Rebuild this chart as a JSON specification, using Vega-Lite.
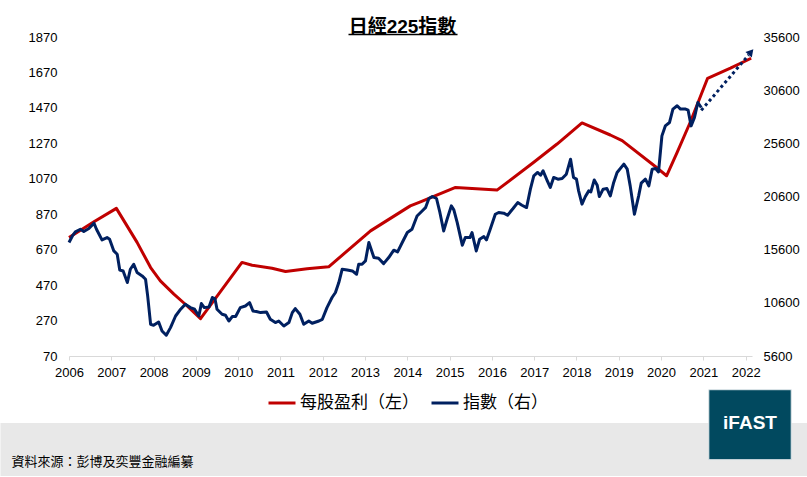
{
  "$schema": "https://vega.github.io/schema/vega-lite/v6.json",
  "width": 683,
  "height": 319,
  "padding": {"left": 0, "right": 0, "top": 18, "bottom": 0},
  "background": "white",
  "title": {"text": "日經225指數", "font": "Liberation Sans, Noto Sans CJK TC", "fontSize": 19, "fontWeight": "bold", "color": "#000000", "anchor": "middle", "offset": -6, "dx": -8},
  "config": {
    "view": {"stroke": null},
    "axis": {"grid": false, "labelFont": "Liberation Sans", "labelFontSize": 13, "labelColor": "#000000", "labelFlush": false, "labelOverlap": false, "labelBound": false},
    "axisY": {"labelOverlap": false},
    "axisQuantitative": {"labelOverlap": false}
  },
  "datasets": {
    "foot": [{"source": "資料來源：彭博及奕豐金融編纂", "logo": "iFAST"}],
    "eps": [
      {"year": 2006.00, "v": 739}, {"year": 2006.59, "v": 827}, {"year": 2007.12, "v": 903},
      {"year": 2007.61, "v": 711}, {"year": 2007.93, "v": 569}, {"year": 2008.16, "v": 494},
      {"year": 2008.48, "v": 419}, {"year": 2008.75, "v": 362}, {"year": 2009.11, "v": 281},
      {"year": 2010.09, "v": 598}, {"year": 2010.33, "v": 582}, {"year": 2010.80, "v": 565},
      {"year": 2011.12, "v": 547}, {"year": 2011.63, "v": 562}, {"year": 2012.14, "v": 573},
      {"year": 2013.13, "v": 776}, {"year": 2014.07, "v": 917}, {"year": 2014.31, "v": 940},
      {"year": 2015.14, "v": 1021}, {"year": 2016.12, "v": 1006}, {"year": 2016.99, "v": 1163},
      {"year": 2017.54, "v": 1266}, {"year": 2018.13, "v": 1385}, {"year": 2018.80, "v": 1317},
      {"year": 2019.08, "v": 1285}, {"year": 2019.94, "v": 1125}, {"year": 2020.13, "v": 1087},
      {"year": 2020.38, "v": 1219}, {"year": 2020.69, "v": 1389}, {"year": 2021.10, "v": 1637},
      {"year": 2021.64, "v": 1694}, {"year": 2022.13, "v": 1750}
    ],
    "idx": [
      {"year": 2006.00, "v": 16270}, {"year": 2006.08, "v": 16890}, {"year": 2006.15, "v": 17270},
      {"year": 2006.27, "v": 17520}, {"year": 2006.35, "v": 17310}, {"year": 2006.47, "v": 17590},
      {"year": 2006.59, "v": 18090}, {"year": 2006.65, "v": 17520}, {"year": 2006.78, "v": 16520},
      {"year": 2006.90, "v": 16740}, {"year": 2006.96, "v": 16580}, {"year": 2007.06, "v": 15480},
      {"year": 2007.14, "v": 15170}, {"year": 2007.20, "v": 13690}, {"year": 2007.28, "v": 13600},
      {"year": 2007.38, "v": 12510}, {"year": 2007.45, "v": 13760}, {"year": 2007.53, "v": 14230},
      {"year": 2007.61, "v": 13450}, {"year": 2007.73, "v": 13130}, {"year": 2007.81, "v": 12820},
      {"year": 2007.86, "v": 11250}, {"year": 2007.93, "v": 8580}, {"year": 2008.00, "v": 8490},
      {"year": 2008.12, "v": 8800}, {"year": 2008.20, "v": 7950}, {"year": 2008.30, "v": 7550},
      {"year": 2008.40, "v": 8270}, {"year": 2008.52, "v": 9360}, {"year": 2008.64, "v": 10000},
      {"year": 2008.75, "v": 10470}, {"year": 2008.87, "v": 10150}, {"year": 2008.97, "v": 10000},
      {"year": 2009.07, "v": 9360}, {"year": 2009.13, "v": 10530}, {"year": 2009.20, "v": 10150},
      {"year": 2009.31, "v": 10210}, {"year": 2009.39, "v": 11100}, {"year": 2009.45, "v": 11000},
      {"year": 2009.50, "v": 10000}, {"year": 2009.62, "v": 9520}, {"year": 2009.70, "v": 9430},
      {"year": 2009.78, "v": 8890}, {"year": 2009.86, "v": 9310}, {"year": 2009.94, "v": 9310},
      {"year": 2010.05, "v": 10150}, {"year": 2010.17, "v": 10300}, {"year": 2010.27, "v": 10620},
      {"year": 2010.35, "v": 9830}, {"year": 2010.43, "v": 9780}, {"year": 2010.53, "v": 9680},
      {"year": 2010.67, "v": 9740}, {"year": 2010.76, "v": 9050}, {"year": 2010.88, "v": 8740},
      {"year": 2010.96, "v": 8890}, {"year": 2011.08, "v": 8420}, {"year": 2011.20, "v": 8740},
      {"year": 2011.28, "v": 9680}, {"year": 2011.35, "v": 10060}, {"year": 2011.46, "v": 9520},
      {"year": 2011.55, "v": 8580}, {"year": 2011.67, "v": 8890}, {"year": 2011.75, "v": 8680},
      {"year": 2011.91, "v": 8890}, {"year": 2011.99, "v": 9050}, {"year": 2012.10, "v": 10150},
      {"year": 2012.22, "v": 11100}, {"year": 2012.30, "v": 11570}, {"year": 2012.38, "v": 12510},
      {"year": 2012.46, "v": 13760}, {"year": 2012.58, "v": 13690}, {"year": 2012.70, "v": 13600},
      {"year": 2012.80, "v": 13290}, {"year": 2012.85, "v": 14230}, {"year": 2012.93, "v": 14230},
      {"year": 2013.01, "v": 14540}, {"year": 2013.09, "v": 16270}, {"year": 2013.21, "v": 14860},
      {"year": 2013.32, "v": 14790}, {"year": 2013.44, "v": 14290}, {"year": 2013.56, "v": 14860},
      {"year": 2013.68, "v": 15550}, {"year": 2013.77, "v": 15390}, {"year": 2013.88, "v": 16270},
      {"year": 2014.00, "v": 17210}, {"year": 2014.11, "v": 17520}, {"year": 2014.23, "v": 18770},
      {"year": 2014.35, "v": 19240}, {"year": 2014.43, "v": 19550}, {"year": 2014.51, "v": 20410},
      {"year": 2014.59, "v": 20600}, {"year": 2014.69, "v": 20410}, {"year": 2014.77, "v": 19100},
      {"year": 2014.86, "v": 17360}, {"year": 2014.94, "v": 18460}, {"year": 2015.04, "v": 19720},
      {"year": 2015.10, "v": 19340}, {"year": 2015.18, "v": 18150}, {"year": 2015.30, "v": 16020},
      {"year": 2015.37, "v": 16740}, {"year": 2015.48, "v": 16740}, {"year": 2015.53, "v": 17210},
      {"year": 2015.63, "v": 15480}, {"year": 2015.71, "v": 16580}, {"year": 2015.81, "v": 16830},
      {"year": 2015.87, "v": 16520}, {"year": 2015.96, "v": 17520}, {"year": 2016.08, "v": 18930},
      {"year": 2016.16, "v": 19100}, {"year": 2016.28, "v": 19030}, {"year": 2016.37, "v": 18840},
      {"year": 2016.50, "v": 19470}, {"year": 2016.61, "v": 20030}, {"year": 2016.71, "v": 19780},
      {"year": 2016.82, "v": 19560}, {"year": 2016.91, "v": 21290}, {"year": 2016.99, "v": 22540},
      {"year": 2017.08, "v": 22860}, {"year": 2017.15, "v": 22600}, {"year": 2017.21, "v": 23010},
      {"year": 2017.31, "v": 22070}, {"year": 2017.38, "v": 21450}, {"year": 2017.46, "v": 22390},
      {"year": 2017.56, "v": 22230}, {"year": 2017.66, "v": 22290}, {"year": 2017.76, "v": 22700},
      {"year": 2017.86, "v": 24110}, {"year": 2017.93, "v": 22390}, {"year": 2018.00, "v": 22230},
      {"year": 2018.05, "v": 21130}, {"year": 2018.13, "v": 19880}, {"year": 2018.21, "v": 20600},
      {"year": 2018.29, "v": 21130}, {"year": 2018.34, "v": 21030}, {"year": 2018.42, "v": 22160},
      {"year": 2018.49, "v": 21660}, {"year": 2018.54, "v": 20600}, {"year": 2018.63, "v": 21290},
      {"year": 2018.72, "v": 21350}, {"year": 2018.80, "v": 20660}, {"year": 2018.88, "v": 21920},
      {"year": 2018.96, "v": 22860}, {"year": 2019.12, "v": 23640}, {"year": 2019.20, "v": 23170},
      {"year": 2019.27, "v": 21600}, {"year": 2019.37, "v": 18930}, {"year": 2019.47, "v": 20660},
      {"year": 2019.53, "v": 21850}, {"year": 2019.63, "v": 22230}, {"year": 2019.71, "v": 21600},
      {"year": 2019.79, "v": 23170}, {"year": 2019.87, "v": 23240}, {"year": 2019.94, "v": 22910},
      {"year": 2020.02, "v": 26300}, {"year": 2020.10, "v": 27240}, {"year": 2020.20, "v": 27560},
      {"year": 2020.28, "v": 28820}, {"year": 2020.38, "v": 29130}, {"year": 2020.46, "v": 28820},
      {"year": 2020.58, "v": 28820}, {"year": 2020.64, "v": 28720}, {"year": 2020.71, "v": 27240},
      {"year": 2020.79, "v": 28030}, {"year": 2020.87, "v": 29440}, {"year": 2020.95, "v": 28970}
    ],
    "fc": [{"year": 2020.95, "v": 28700}, {"year": 2022.07, "v": 33900}],
    "tip": [{"year": 2022.126, "v": 34190}]
  },
  "layer": [
    {
      "layer": [
        {
          "data": {"name": "eps"},
          "mark": {"type": "line", "strokeWidth": 3, "strokeJoin": "round"},
          "encoding": {
            "x": {"field": "year", "type": "quantitative", "scale": {"domain": [2006, 2022.15], "nice": false, "zero": false},
                  "axis": {"title": null, "values": [2006, 2007, 2008, 2009, 2010, 2011, 2012, 2013, 2014, 2015, 2016, 2017, 2018, 2019, 2020, 2021, 2022], "format": "d", "domainColor": "#d9d9d9", "tickColor": "#d9d9d9", "tickSize": 4, "labelPadding": 6, "labelOverlap": false, "labelFlush": false}},
            "y": {"field": "v", "type": "quantitative", "scale": {"domain": [70, 1870], "nice": false, "zero": false},
                  "axis": {"title": null, "orient": "left", "values": [70, 270, 470, 670, 870, 1070, 1270, 1470, 1670, 1870], "format": "d", "domain": false, "ticks": false, "labelPadding": 12, "labelOverlap": false, "labelFlush": false}},
            "color": {"datum": "每股盈利（左）",
                      "scale": {"domain": ["每股盈利（左）", "指數（右）"], "range": ["#c00000", "#002060"]},
                      "legend": {"title": null, "orient": "none", "legendX": 198, "legendY": 351, "direction": "horizontal", "symbolType": "stroke", "symbolStrokeWidth": 3, "symbolSize": 729, "labelFont": "Noto Sans CJK TC", "labelFontSize": 17, "labelColor": "#000000", "labelOffset": 3, "columnPadding": 6, "padding": 0, "labelLimit": 300}}
          }
        },
        {
          "data": {"name": "foot"},
          "mark": {"type": "rect", "fill": "#e8e8e8"},
          "encoding": {
            "x": {"datum": 2004.38, "type": "quantitative", "scale": {"domain": [2006, 2022.15], "nice": false, "zero": false}},
            "x2": {"datum": 2023.462},
            "y": {"datum": -308.1, "type": "quantitative", "scale": {"domain": [70, 1870], "nice": false, "zero": false},
                  "axis": {"title": null, "orient": "left", "values": [70, 270, 470, 670, 870, 1070, 1270, 1470, 1670, 1870], "format": "d", "domain": false, "ticks": false, "labelPadding": 12, "labelOverlap": false, "labelFlush": false}},
            "y2": {"datum": -607.1}
          }
        },
        {
          "data": {"name": "foot"},
          "mark": {"type": "rect", "fill": "#01495f", "stroke": "#dfe6ea", "strokeWidth": 1},
          "encoding": {
            "x": {"datum": 2021.129, "type": "quantitative", "scale": {"domain": [2006, 2022.15], "nice": false, "zero": false}},
            "x2": {"datum": 2023.077},
            "y": {"datum": -120.2, "type": "quantitative", "scale": {"domain": [70, 1870], "nice": false, "zero": false},
                  "axis": {"title": null, "orient": "left", "values": [70, 270, 470, 670, 870, 1070, 1270, 1470, 1670, 1870], "format": "d", "domain": false, "ticks": false, "labelPadding": 12, "labelOverlap": false, "labelFlush": false}},
            "y2": {"datum": -515.1}
          }
        },
        {
          "data": {"name": "foot"},
          "mark": {"type": "text", "font": "Liberation Sans", "fontSize": 19, "fontWeight": "bold", "color": "#ffffff", "align": "center", "baseline": "middle"},
          "encoding": {
            "x": {"datum": 2022.103, "type": "quantitative", "scale": {"domain": [2006, 2022.15], "nice": false, "zero": false}},
            "y": {"datum": -306.4, "type": "quantitative", "scale": {"domain": [70, 1870], "nice": false, "zero": false},
                  "axis": {"title": null, "orient": "left", "values": [70, 270, 470, 670, 870, 1070, 1270, 1470, 1670, 1870], "format": "d", "domain": false, "ticks": false, "labelPadding": 12, "labelOverlap": false, "labelFlush": false}},
            "text": {"field": "logo"}
          }
        },
        {
          "data": {"name": "foot"},
          "mark": {"type": "text", "font": "Noto Sans CJK TC", "fontSize": 13, "color": "#000000", "align": "left", "baseline": "middle"},
          "encoding": {
            "x": {"datum": 2004.64, "type": "quantitative", "scale": {"domain": [2006, 2022.15], "nice": false, "zero": false}},
            "y": {"datum": -526.4, "type": "quantitative", "scale": {"domain": [70, 1870], "nice": false, "zero": false},
                  "axis": {"title": null, "orient": "left", "values": [70, 270, 470, 670, 870, 1070, 1270, 1470, 1670, 1870], "format": "d", "domain": false, "ticks": false, "labelPadding": 12, "labelOverlap": false, "labelFlush": false}},
            "text": {"field": "source"}
          }
        },
        {
          "data": {"name": "foot"},
          "mark": {"type": "rule", "color": "#000000", "strokeWidth": 1.3},
          "encoding": {
            "x": {"datum": 2012.609, "type": "quantitative", "scale": {"domain": [2006, 2022.15], "nice": false, "zero": false}},
            "x2": {"datum": 2015.187},
            "y": {"datum": 1884, "type": "quantitative", "scale": {"domain": [70, 1870], "nice": false, "zero": false},
                  "axis": {"title": null, "orient": "left", "values": [70, 270, 470, 670, 870, 1070, 1270, 1470, 1670, 1870], "format": "d", "domain": false, "ticks": false, "labelPadding": 12, "labelOverlap": false, "labelFlush": false}}
          }
        }
      ]
    },
    {
      "layer": [
        {
          "data": {"name": "idx"},
          "mark": {"type": "line", "strokeWidth": 3, "strokeJoin": "round"},
          "encoding": {
            "x": {"field": "year", "type": "quantitative", "scale": {"domain": [2006, 2022.15], "nice": false, "zero": false}},
            "y": {"field": "v", "type": "quantitative", "scale": {"domain": [5600, 35600], "nice": false, "zero": false},
                  "axis": {"title": null, "orient": "right", "values": [5600, 10600, 15600, 20600, 25600, 30600, 35600], "format": "d", "domain": false, "ticks": false, "labelPadding": 11, "labelOverlap": false, "labelFlush": false}},
            "color": {"datum": "指數（右）", "scale": {"domain": ["每股盈利（左）", "指數（右）"], "range": ["#c00000", "#002060"]}}
          }
        },
        {
          "data": {"name": "fc"},
          "mark": {"type": "line", "strokeWidth": 3, "strokeDash": [3, 3], "color": "#002060"},
          "encoding": {
            "x": {"field": "year", "type": "quantitative", "scale": {"domain": [2006, 2022.15], "nice": false, "zero": false}},
            "y": {"field": "v", "type": "quantitative", "scale": {"domain": [5600, 35600], "nice": false, "zero": false}}
          }
        },
        {
          "data": {"name": "tip"},
          "mark": {"type": "point", "shape": "triangle-up", "filled": true, "size": 70, "angle": 41, "color": "#002060", "opacity": 1},
          "encoding": {
            "x": {"field": "year", "type": "quantitative", "scale": {"domain": [2006, 2022.15], "nice": false, "zero": false}},
            "y": {"field": "v", "type": "quantitative", "scale": {"domain": [5600, 35600], "nice": false, "zero": false}}
          }
        }
      ]
    }
  ],
  "resolve": {"scale": {"y": "independent"}}
}
